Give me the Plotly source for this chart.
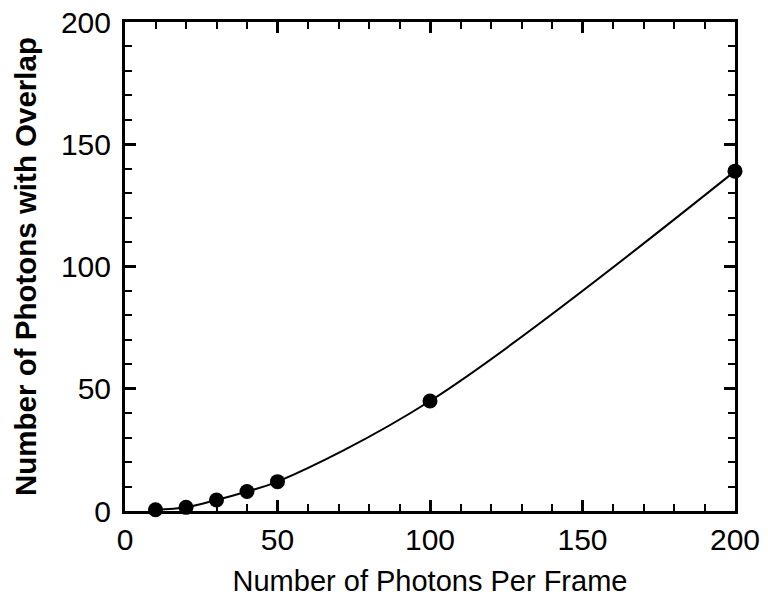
import plotly.graph_objects as go

photons_per_frame = [10, 20, 30, 40, 50, 100, 200]
photons_overlap = [0.5, 1.5, 4.5, 8.0, 12.0, 45.0, 139.0]

x_title = "Number of Photons Per Frame"
y_title = "<b>Number of Photons with Overlap</b>"

FONT = "Liberation Sans, Arial, Helvetica, sans-serif"

fig = go.Figure()
fig.add_trace(go.Scatter(
    x=photons_per_frame, y=photons_overlap,
    mode="lines+markers",
    line=dict(color="black", width=2, shape="spline", smoothing=1.0),
    marker=dict(color="black", size=15),
    cliponaxis=False,
    showlegend=False,
))

axis_common = dict(
    showline=True, linecolor="black", linewidth=3, mirror="ticks",
    ticks="inside", ticklen=11, tickwidth=2.5, tickcolor="black",
    showgrid=False, zeroline=False, automargin=False,
    ticklabeloverflow="allow",
    tickfont=dict(family=FONT, size=30, color="black"),
    minor=dict(ticks="inside", ticklen=7, tickwidth=2, tickcolor="black", dtick=10, showgrid=False),
)

fig.update_layout(
    width=768, height=600,
    margin=dict(l=125, r=33, t=22, b=89),
    paper_bgcolor="white", plot_bgcolor="white",
    xaxis=dict(range=[0, 200], dtick=50, tick0=0,
               title=dict(text=x_title, standoff=16,
                          font=dict(family=FONT, size=29, color="black")),
               **axis_common),
    yaxis=dict(range=[0, 200], dtick=50, tick0=0, ticklabelstandoff=5,
               title=dict(text=y_title, standoff=16,
                          font=dict(family=FONT, size=29.5, color="black")),
               **axis_common),
)

# remove the default 8px page margin so the 768x600 figure fills the window exactly
fig.write_html("out.html",
               config={"displayModeBar": False},
               post_script="document.body.style.margin='0';document.body.style.overflow='hidden';")
